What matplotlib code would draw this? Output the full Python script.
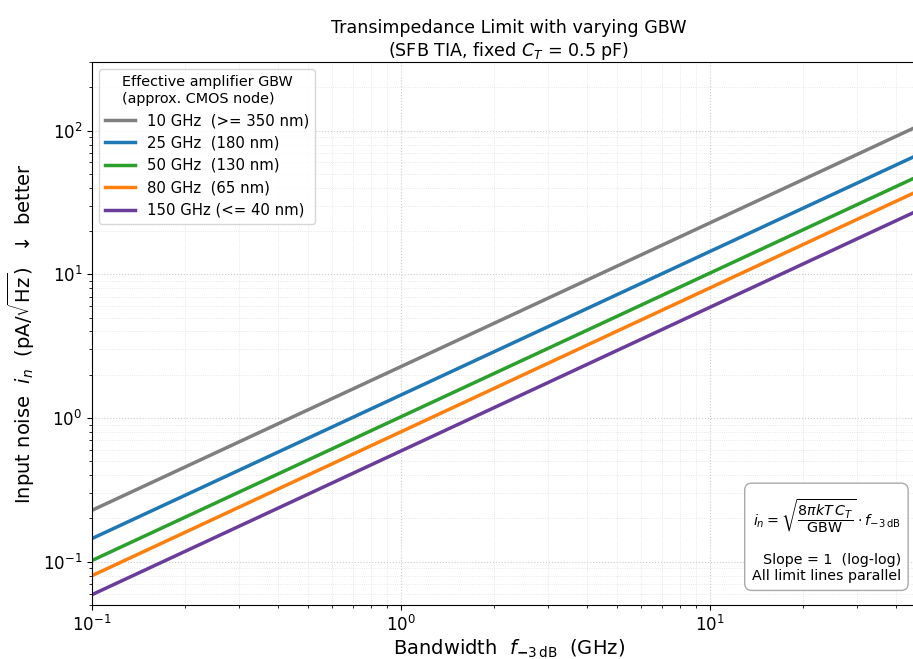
import numpy as np
import matplotlib
matplotlib.use("Agg")
import matplotlib.pyplot as plt

# bandwidth end points (GHz) and input noise (pA/sqrt(Hz))
bw = [0.1, 50.0]
labels = ["10 GHz  (>= 350 nm)", "25 GHz  (180 nm)", "50 GHz  (130 nm)",
          "80 GHz  (65 nm)", "150 GHz (<= 40 nm)"]
noise_10 = [0.228, 114.0]
noise_25 = [0.145, 72.0]
noise_50 = [0.102, 51.0]
noise_80 = [0.080, 40.3]
noise_150 = [0.059, 29.5]
colors = ["#7f7f7f", "#1f77b4", "#2ca02c", "#ff7f0e", "#6a3d9a"]

fig = plt.figure(figsize=(9.13, 6.59), dpi=100)
ax = fig.add_axes([92/913, 1 - 605/659, 834/913, 543/659])

for y, lab, c in zip([noise_10, noise_25, noise_50, noise_80, noise_150], labels, colors):
    ax.loglog(bw, y, color=c, lw=2.5, label=lab)

ax.set_xlim(0.1, 50)
ax.set_ylim(0.05, 300)
ax.grid(True, which="major", ls=":", color="#cccccc", lw=0.8)
ax.grid(True, which="minor", ls=":", color="#e0e0e0", lw=0.6)
ax.tick_params(labelsize=12)

ax.set_xlabel(r"Bandwidth  $f_{\mathbf{-}3\,\mathrm{dB}}$  (GHz)", fontsize=14, labelpad=2)
ax.set_ylabel(r"Input noise  $i_n$  (pA/$\sqrt{\mathrm{Hz}}$)  $\downarrow$ better", fontsize=14)
ax.set_title("Transimpedance Limit with varying GBW\n(SFB TIA, fixed $C_T$ = 0.5 pF)",
             fontsize=12.6, pad=2.5)

leg = ax.legend(loc="upper left", fontsize=10.7,
                title="Effective amplifier GBW\n(approx. CMOS node)", title_fontsize=10.4)

ax.text(0.97, 0.04,
        r"$i_n = \sqrt{\dfrac{8\pi kT\,C_T}{\mathrm{GBW}}}\cdot f_{-3\,\mathrm{dB}}$" + "\n\n"
        + "Slope = 1  (log-log)\nAll limit lines parallel",
        transform=ax.transAxes, ha="right", va="bottom", fontsize=10.3, multialignment="right",
        bbox=dict(boxstyle="round,pad=0.5", fc="white", ec="#aaaaaa"))

fig.savefig("out.png", dpi=100)
